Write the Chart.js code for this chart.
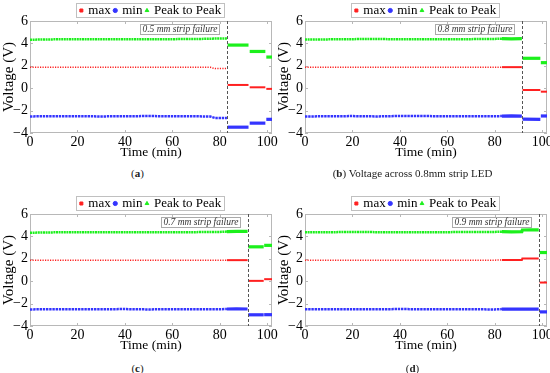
<!DOCTYPE html>
<html>
<head>
<meta charset="utf-8">
<script src="https://cdn.jsdelivr.net/npm/chart.js@4.4.0/dist/chart.umd.min.js"></script>
<style>
  html, body { margin: 0; padding: 0; background: #fff; }
  body { width: 550px; height: 373px; position: relative; overflow: hidden; font-family: 'Liberation Serif', serif; }
  .panel { position: absolute; width: 282px; height: 162px; }
  .caption { position: absolute; width: 275px; text-align: center; font-size: 11px; line-height: 14px; color: #222; }
</style>
</head>
<body>
<div class="panel" style="left:0;top:0"><canvas id="chartA"></canvas></div>
<div class="panel" style="left:275px;top:0"><canvas id="chartB"></canvas></div>
<div class="panel" style="left:0;top:193px"><canvas id="chartC"></canvas></div>
<div class="panel" style="left:275px;top:193px"><canvas id="chartD"></canvas></div>
<div class="caption" style="left:0;top:166px">(<b>a</b>)</div>
<div class="caption" style="left:275px;top:166px">(<b>b</b>) Voltage across 0.8mm strip LED</div>
<div class="caption" style="left:0;top:361px">(<b>c</b>)</div>
<div class="caption" style="left:275px;top:361px">(<b>d</b>)</div>
<script>
// axis ticks
const xTicks = [0, 20, 40, 60, 80, 100];
const yTicks = [-4, -2, 0, 2, 4, 6];
const seriesNames = ['max', 'min', 'Peak to Peak'];

// (a) 0.5 mm strip
const timeA = [0, 10, 20, 30, 40, 50, 60, 70, 76, 78, 83, 83.1, 83.3, 92.1, 92.3, 92.6, 99.2, 99.4, 99.6, 102];
const maxA = [1.87, 1.87, 1.87, 1.87, 1.87, 1.86, 1.87, 1.87, 1.86, 1.75, 1.76, null, 0.29, 0.29, null, 0.08, 0.08, null, -0.06, -0.06];
const minA = [-2.52, -2.5, -2.5, -2.52, -2.5, -2.49, -2.5, -2.51, -2.53, -2.66, -2.65, null, -3.48, -3.48, null, -3.12, -3.12, null, -2.78, -2.78];
const ppA = [4.33, 4.36, 4.37, 4.36, 4.38, 4.37, 4.38, 4.39, 4.42, 4.43, 4.44, null, 3.85, 3.85, null, 3.28, 3.28, null, 2.78, 2.78];

// (b) 0.8 mm strip
const timeB = [0, 10, 20, 30, 40, 50, 60, 70, 80, 83, 87, 91.4, 91.5, 91.7, 99.2, 99.3, 99.4, 102];
const maxB = [1.87, 1.87, 1.86, 1.87, 1.87, 1.87, 1.86, 1.87, 1.87, 1.88, 1.88, 1.88, null, -0.16, -0.16, null, -0.31, -0.31];
const minB = [-2.52, -2.51, -2.49, -2.52, -2.48, -2.49, -2.5, -2.5, -2.5, -2.49, -2.47, -2.5, null, -2.76, -2.78, null, -2.48, -2.48];
const ppB = [4.34, 4.36, 4.38, 4.4, 4.36, 4.38, 4.38, 4.38, 4.4, 4.42, 4.4, 4.42, null, 2.67, 2.67, null, 2.28, 2.28];

// (c) 0.7 mm strip
const timeC = [0, 10, 20, 30, 40, 50, 60, 70, 80, 83, 87, 91.7, 91.8, 92, 98.5, 98.6, 98.7, 102];
const maxC = [1.87, 1.87, 1.87, 1.87, 1.87, 1.87, 1.87, 1.87, 1.87, 1.88, 1.88, 1.88, null, 0.03, 0.03, null, 0.18, 0.18];
const minC = [-2.52, -2.5, -2.5, -2.5, -2.49, -2.52, -2.5, -2.51, -2.5, -2.48, -2.47, -2.48, null, -3.0, -3.0, null, -2.99, -2.99];
const ppC = [4.33, 4.36, 4.37, 4.37, 4.38, 4.38, 4.37, 4.38, 4.4, 4.43, 4.44, 4.45, null, 3.07, 3.07, null, 3.2, 3.2];

// (d) 0.9 mm strip
const timeD = [0, 10, 20, 30, 40, 50, 60, 70, 80, 83, 87, 91.4, 91.6, 95, 98.5, 98.7, 98.9, 102];
const maxD = [1.88, 1.88, 1.88, 1.88, 1.88, 1.88, 1.88, 1.88, 1.88, 1.89, 1.89, 1.89, 2.02, 2.02, 2.02, null, -0.12, -0.12];
const minD = [-2.51, -2.5, -2.51, -2.5, -2.49, -2.5, -2.5, -2.51, -2.52, -2.49, -2.48, -2.49, -2.5, -2.5, -2.5, null, -2.74, -2.74];
const ppD = [4.36, 4.37, 4.4, 4.38, 4.37, 4.38, 4.38, 4.39, 4.4, 4.42, 4.41, 4.42, 4.57, 4.58, 4.58, null, 2.56, 2.56];

const failureTimes = [83, 91.5, 91.8, 98.7];
const failureLabels = ['0.5 mm strip failure', '0.8 mm strip failure', '0.7 mm strip failure', '0.9 mm strip failure'];
const denseFrom = 83; // logger switched to a faster sampling rate here

const SERIF = "'Liberation Serif', 'Times New Roman', serif";
const RED = '#ff2020', BLUE = '#3434ff', GREEN = '#1cf01c';

// frame with inward ticks, failure marker and legend border
const framePlugin = {
    id: 'frame',
    beforeDatasetsDraw(chart) {
        const { ctx, chartArea: a, scales: { x, y } } = chart;
        ctx.save();
        ctx.strokeStyle = '#b8b8b8';
        ctx.lineWidth = 1;
        ctx.strokeRect(a.left + 0.5, a.top + 0.5, a.width - 1, a.height - 1);
        ctx.beginPath();
        x.ticks.forEach(t => {
            const px = Math.round(x.getPixelForValue(t.value)) + 0.5;
            ctx.moveTo(px, a.bottom); ctx.lineTo(px, a.bottom - 3);
            ctx.moveTo(px, a.top); ctx.lineTo(px, a.top + 3);
        });
        y.ticks.forEach(t => {
            const py = Math.round(y.getPixelForValue(t.value)) + 0.5;
            ctx.moveTo(a.left, py); ctx.lineTo(a.left + 3, py);
            ctx.moveTo(a.right, py); ctx.lineTo(a.right - 3, py);
        });
        ctx.stroke();
        ctx.restore();
    },
    afterDatasetsDraw(chart, args, opts) {
        const { ctx, chartArea: a, scales: { x } } = chart;
        const px = Math.round(x.getPixelForValue(opts.failAt)) + 0.5;
        ctx.save();
        ctx.strokeStyle = '#555';
        ctx.lineWidth = 1;
        ctx.setLineDash([3, 2]);
        ctx.beginPath();
        ctx.moveTo(px, a.top);
        ctx.lineTo(px, a.bottom);
        ctx.stroke();
        ctx.setLineDash([]);

        ctx.font = 'italic 9.5px ' + SERIF;
        const w = ctx.measureText(opts.label).width;
        const right = px - 8, left = right - w - 4, top = a.top + 3;
        ctx.fillStyle = '#fff';
        ctx.fillRect(left, top, w + 4, 10);
        ctx.strokeStyle = '#aaa';
        ctx.strokeRect(Math.round(left) + 0.5, top + 0.5, Math.round(w + 4), 10);
        ctx.fillStyle = '#333';
        ctx.textBaseline = 'middle';
        ctx.fillText(opts.label, left + 2, top + 5.5);
        ctx.restore();
    },
    afterDraw(chart) {
        const hb = chart.legend.legendHitBoxes;
        if (!hb || !hb.length) return;
        const last = hb[hb.length - 1];
        const { ctx } = chart;
        ctx.save();
        ctx.strokeStyle = '#c0c0c0';
        ctx.lineWidth = 1;
        const l = Math.round(hb[0].left - 5) + 0.5, r = Math.round(last.left + last.width + 3) + 0.5;
        const t = Math.round(hb[0].top - 1) + 0.5;
        ctx.strokeRect(l, t, r - l, hb[0].height + 1);
        ctx.restore();
    }
};

function series(name, time, vals, color, sparseWidth, sparseDash, denseWidth, pointStyle) {
    return {
        label: name,
        data: time.map((t, i) => ({ x: t, y: vals[i] })),
        borderColor: color,
        backgroundColor: color,
        pointStyle: pointStyle,
        pointRadius: 0,
        borderWidth: sparseWidth,
        spanGaps: false,
        segment: {
            borderDash: ctx => ctx.p0.parsed.x >= denseFrom ? [] : sparseDash,
            borderWidth: ctx => ctx.p0.parsed.x >= denseFrom ? denseWidth : sparseWidth
        }
    };
}

function makeChart(id, time, maxV, minV, ppV, failAt, label) {
    const ctx = document.getElementById(id);
    return new Chart(ctx.getContext('2d'), {
        type: 'line',
        data: {
            datasets: [
                series(seriesNames[0], time, maxV, RED, 1.5, [1.2, 1.3], 2, 'rect'),
                series(seriesNames[1], time, minV, BLUE, 2.5, [2.4, 0.8], 3.2, 'circle'),
                series(seriesNames[2], time, ppV, GREEN, 2.5, [2, 0.6], 3.2, 'triangle')
            ]
        },
        options: {
            responsive: true,
            maintainAspectRatio: false,
            animation: false,
            layout: { padding: { left: 0, right: 10, top: 0, bottom: 0 } },
            plugins: {
                legend: {
                    position: 'top',
                    fullSize: false,
                    maxHeight: 21,
                    labels: {
                        usePointStyle: true,
                        boxWidth: 1,
                        boxHeight: 3,
                        padding: 4,
                        color: '#000',
                        font: { family: SERIF, size: 13 },
                        generateLabels: chart => Chart.defaults.plugins.legend.labels.generateLabels(chart)
                            .map(item => ({ ...item, lineWidth: 1, lineDash: [] }))
                    }
                },
                tooltip: { enabled: false },
                frame: { failAt: failAt, label: label }
            },
            scales: {
                x: {
                    type: 'linear',
                    min: 0,
                    max: 102,
                    grid: { display: false, drawTicks: false },
                    border: { display: false },
                    afterBuildTicks: s => { s.ticks = xTicks.map(v => ({ value: v })); },
                    afterFit: s => { s.height = 29; },
                    ticks: { color: '#000', padding: 1, font: { family: SERIF, size: 14 } },
                    title: {
                        display: true,
                        text: 'Time (min)',
                        color: '#000',
                        padding: { top: 0, bottom: 1 },
                        font: { family: SERIF, size: 13.5 }
                    }
                },
                y: {
                    min: -4,
                    max: 6,
                    grid: { display: false, drawTicks: false },
                    border: { display: false },
                    afterBuildTicks: s => { s.ticks = yTicks.map(v => ({ value: v })); },
                    afterFit: s => { s.width = 30; },
                    ticks: {
                        color: '#000',
                        padding: 2,
                        font: { family: SERIF, size: 14 },
                        callback: v => v < 0 ? '\u2212' + Math.abs(v) : String(v)
                    },
                    title: {
                        display: true,
                        text: 'Voltage (V)',
                        color: '#000',
                        padding: { top: 0, bottom: 0 },
                        font: { family: SERIF, size: 15 }
                    }
                }
            }
        },
        plugins: [framePlugin]
    });
}

makeChart('chartA', timeA, maxA, minA, ppA, failureTimes[0], failureLabels[0]);
makeChart('chartB', timeB, maxB, minB, ppB, failureTimes[1], failureLabels[1]);
makeChart('chartC', timeC, maxC, minC, ppC, failureTimes[2], failureLabels[2]);
makeChart('chartD', timeD, maxD, minD, ppD, failureTimes[3], failureLabels[3]);
</script>
</body>
</html>
